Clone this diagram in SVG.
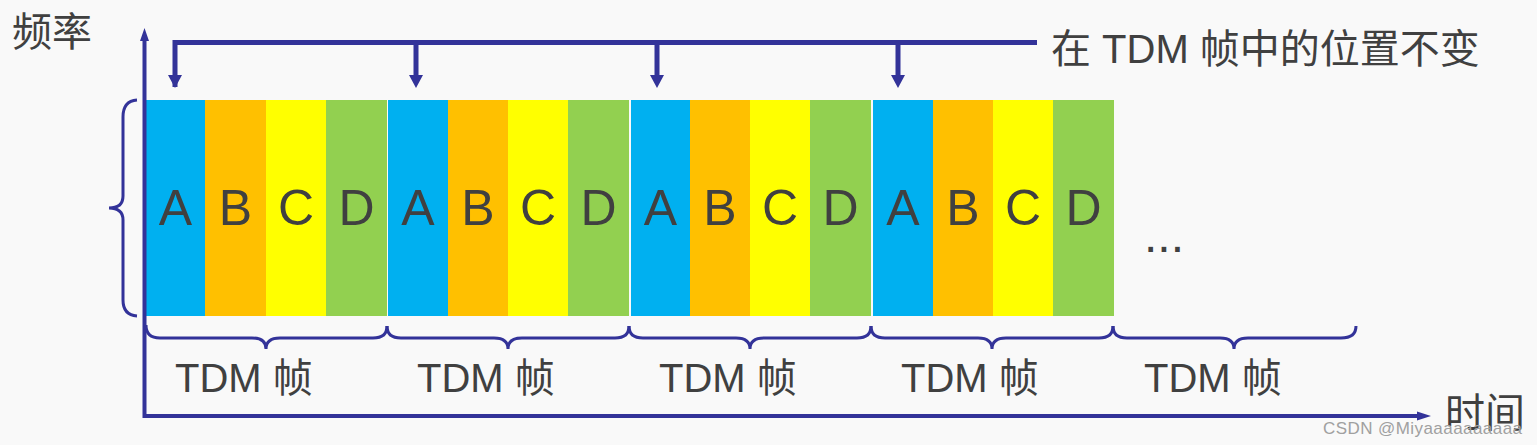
<svg xmlns="http://www.w3.org/2000/svg" width="1537" height="445" viewBox="0 0 1537 445">
<defs>
<style>
.t{font-family:"Liberation Sans","Noto Sans CJK SC",sans-serif;fill:#404040}
.lt{font-size:50px;text-anchor:middle}
.lb{font-size:40px}
.ln{stroke:#333399;fill:none}
.A{fill:#00B0F0}.B{fill:#FFC000}.C{fill:#FFFF00}.D{fill:#92D050}
</style>
</defs>
<rect width="1537" height="445" fill="#f9f9f9"/>
<g id="frame1">
<rect class="A" x="146" y="100" width="59" height="216"/><rect class="B" x="205" y="100" width="61" height="216"/><rect class="C" x="266" y="100" width="60" height="216"/><rect class="D" x="326" y="100" width="61" height="216"/>
<text class="t lt" x="175.5" y="225">A</text><text class="t lt" x="235.5" y="225">B</text><text class="t lt" x="296" y="225">C</text><text class="t lt" x="356.5" y="225">D</text>
</g>
<g id="frame2">
<rect class="A" x="388" y="100" width="60" height="216"/><rect class="B" x="448" y="100" width="60" height="216"/><rect class="C" x="508" y="100" width="60" height="216"/><rect class="D" x="568" y="100" width="61" height="216"/>
<text class="t lt" x="418" y="225">A</text><text class="t lt" x="478" y="225">B</text><text class="t lt" x="538" y="225">C</text><text class="t lt" x="598.5" y="225">D</text>
</g>
<g id="frame3">
<rect class="A" x="631" y="100" width="59" height="216"/><rect class="B" x="690" y="100" width="60" height="216"/><rect class="C" x="750" y="100" width="60" height="216"/><rect class="D" x="810" y="100" width="61" height="216"/>
<text class="t lt" x="660.5" y="225">A</text><text class="t lt" x="720" y="225">B</text><text class="t lt" x="780" y="225">C</text><text class="t lt" x="840.5" y="225">D</text>
</g>
<g id="frame4">
<rect class="A" x="873" y="100" width="60" height="216"/><rect class="B" x="933" y="100" width="60" height="216"/><rect class="C" x="993" y="100" width="60" height="216"/><rect class="D" x="1053" y="100" width="61" height="216"/>
<text class="t lt" x="903" y="225">A</text><text class="t lt" x="963" y="225">B</text><text class="t lt" x="1023" y="225">C</text><text class="t lt" x="1083.5" y="225">D</text>
</g>
<g id="ellipsis"><text class="t" x="1144" y="252" style="font-size:48px">...</text></g>
<g id="connectors">
<path class="ln" stroke-width="4" d="M144.5,417 V38 M142.5,416 H1418"/>
<path fill="#333399" d="M144.5,28 L149,41 L140,41 Z M1431,416 L1417,411.5 L1417,420.5 Z"/>
<path class="ln" stroke-width="5" d="M175,87 V42.5 H1037 M416,42.5 V80 M657,42.5 V80 M898,42.5 V80"/>
<path fill="#333399" d="M168,75 L182,75 L175,88 Z M409,75 L423,75 L416,88 Z M650,75 L664,75 L657,88 Z M891,75 L905,75 L898,88 Z"/>
<path class="ln" stroke-width="3" d="M137,100 Q123,101 123,117 L123,196 Q123,208 109,208 Q123,208 123,220 L123,300 Q123,315 137,316"/>
<path class="ln" stroke-width="3" d="M146,325 Q146,338 160,338 L252,338 Q266,338 266,349 Q266,338 280,338 L373,338 Q387,338 387,326"/>
<path class="ln" stroke-width="3" d="M387,326 Q387,338 401,338 L494,338 Q508,338 508,349 Q508,338 522,338 L615,338 Q629,338 629,326"/>
<path class="ln" stroke-width="3" d="M629,326 Q629,338 643,338 L736,338 Q750,338 750,349 Q750,338 764,338 L857,338 Q871,338 871,326"/>
<path class="ln" stroke-width="3" d="M871,326 Q871,338 885,338 L978,338 Q992,338 992,349 Q992,338 1006,338 L1099,338 Q1113,338 1113,326"/>
<path class="ln" stroke-width="3" d="M1113,326 Q1113,338 1127,338 L1220,338 Q1234,338 1234,349 Q1234,338 1248,338 L1341,338 Q1356,338 1356,326"/>
</g>
<g id="labels">
<text class="t lb" x="175" y="392">TDM 帧</text>
<text class="t lb" x="417" y="392">TDM 帧</text>
<text class="t lb" x="659" y="392">TDM 帧</text>
<text class="t lb" x="901" y="392">TDM 帧</text>
<text class="t lb" x="1144" y="392">TDM 帧</text>
<text class="t lb" x="1051" y="63">在 TDM 帧中的位置不变</text>
<text class="t lb" x="12" y="46">频率</text>
<text class="t lb" x="1445" y="427">时间</text>
<text x="1323" y="434" textLength="199" style="font-family:'Liberation Sans',sans-serif;font-size:17px;fill:#a0a0a0">CSDN @Miyaaaaaaaaaa</text>
</g>
</svg>
